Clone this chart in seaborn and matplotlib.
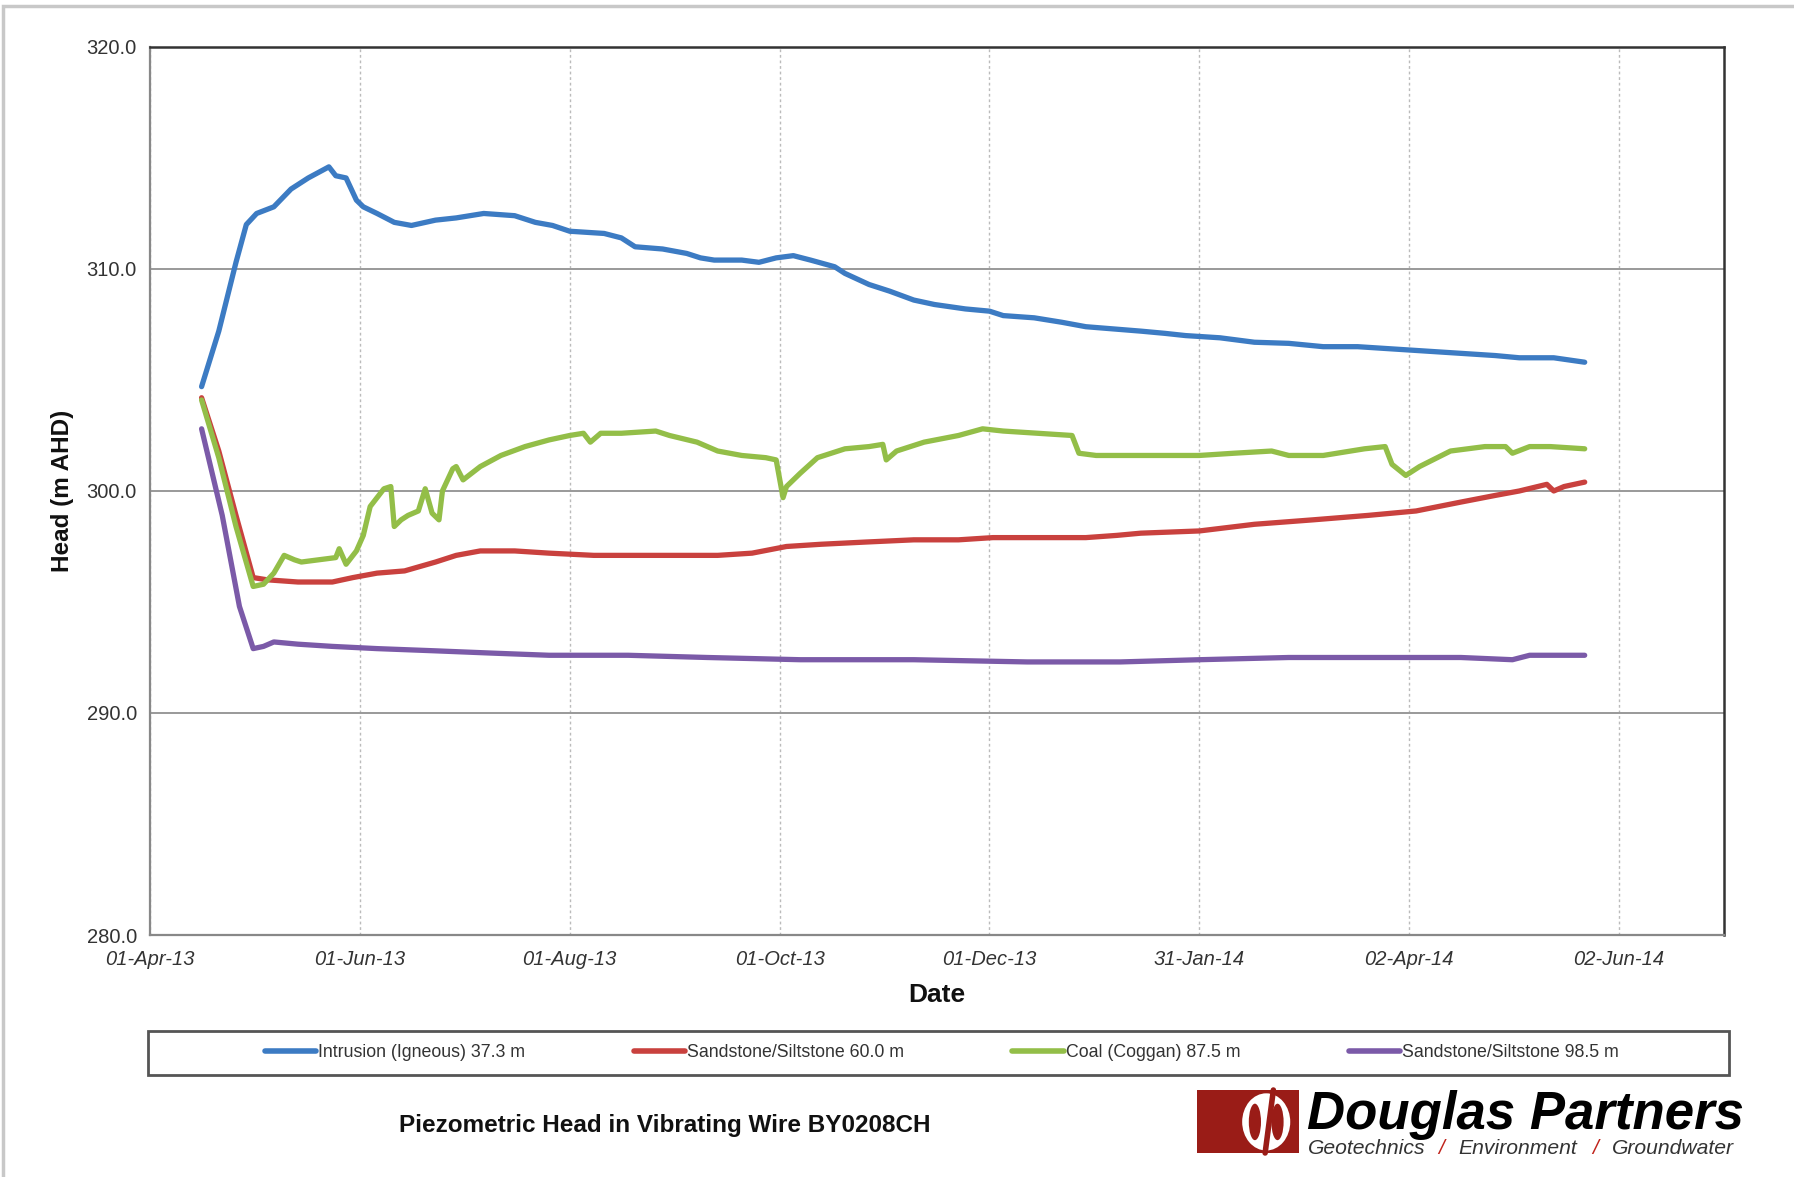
import numpy as np
import pandas as pd
import matplotlib
matplotlib.use("Agg")
import matplotlib.pyplot as plt
import matplotlib.dates as mdates
from matplotlib.patches import Rectangle, Ellipse
import seaborn as sns

# days after 01-Apr-13
blue_days = [15, 20, 25, 28, 31, 36, 41, 46, 52, 54, 57, 60, 62, 66, 71, 76, 83, 89, 97, 106,
             112, 117, 122, 132, 137, 141, 149, 156, 160, 164, 172, 177, 182, 187, 192, 199,
             202, 209, 215, 222, 228, 237, 244, 248, 257, 265, 272, 280, 288, 295, 301, 311,
             321, 331, 341, 351, 361, 371, 381, 391, 398, 408, 417]
blue_head = [304.7, 307.2, 310.3, 312.0, 312.5, 312.8, 313.6, 314.1, 314.6, 314.2, 314.1, 313.1,
             312.8, 312.5, 312.1, 311.96, 312.2, 312.3, 312.5, 312.4, 312.1, 311.96, 311.7, 311.6,
             311.4, 311.0, 310.9, 310.7, 310.5, 310.4, 310.4, 310.3, 310.5, 310.6, 310.4, 310.1,
             309.8, 309.3, 309.0, 308.6, 308.4, 308.2, 308.1, 307.9, 307.8, 307.6, 307.4, 307.3,
             307.2, 307.1, 307.0, 306.9, 306.7, 306.65, 306.5, 306.5, 306.4, 306.3, 306.2, 306.1,
             306.0, 306.0, 305.8]

red_days = [15, 20, 25, 30, 34, 43, 53, 59, 66, 74, 83, 89, 96, 106, 116, 129, 142, 155, 165,
            175, 185, 195, 208, 222, 235, 245, 255, 272, 281, 288, 305, 321, 338, 354, 368, 381,
            391, 398, 406, 408, 411, 417]
red_head = [304.2, 301.8, 298.9, 296.1, 296.0, 295.9, 295.9, 296.1, 296.3, 296.4, 296.8, 297.1,
            297.3, 297.3, 297.2, 297.1, 297.1, 297.1, 297.1, 297.2, 297.5, 297.6, 297.7, 297.8,
            297.8, 297.9, 297.9, 297.9, 298.0, 298.1, 298.2, 298.5, 298.7, 298.9, 299.1, 299.5,
            299.8, 300.0, 300.3, 300.0, 300.2, 300.4]

green_days = [15, 20, 25, 30, 33, 36, 39, 42, 44, 49, 54, 55, 57, 60, 62, 64, 68, 70, 71, 73,
              75, 78, 80, 82, 84, 85, 88, 89, 91, 96, 102, 109, 116, 122, 126, 128, 131, 137,
              147, 151, 159, 165, 172, 179, 182, 184, 185, 189, 194, 202, 209, 213, 214, 217,
              225, 235, 242, 248, 258, 268, 270, 275, 288, 305, 315, 326, 331, 341, 353, 359,
              361, 365, 369, 378, 388, 394, 396, 401, 407, 417]
green_head = [304.1, 301.5, 298.4, 295.7, 295.8, 296.3, 297.1, 296.9, 296.8, 296.9, 297.0, 297.4,
              296.7, 297.3, 298.0, 299.3, 300.1, 300.2, 298.4, 298.7, 298.9, 299.1, 300.1, 299.0,
              298.7, 300.0, 301.0, 301.1, 300.5, 301.1, 301.6, 302.0, 302.3, 302.5, 302.6, 302.2,
              302.6, 302.6, 302.7, 302.5, 302.2, 301.8, 301.6, 301.5, 301.4, 299.7, 300.2, 300.8,
              301.5, 301.9, 302.0, 302.1, 301.4, 301.8, 302.2, 302.5, 302.8, 302.7, 302.6, 302.5,
              301.7, 301.6, 301.6, 301.6, 301.7, 301.8, 301.6, 301.6, 301.9, 302.0, 301.2, 300.7,
              301.1, 301.8, 302.0, 302.0, 301.7, 302.0, 302.0, 301.9]

purple_days = [15, 21, 26, 30, 33, 36, 43, 53, 66, 83, 99, 116, 139, 162, 189, 222, 255, 282,
               305, 331, 354, 381, 396, 401, 417]
purple_head = [302.8, 298.9, 294.8, 292.9, 293.0, 293.2, 293.1, 293.0, 292.9, 292.8, 292.7,
               292.6, 292.6, 292.5, 292.4, 292.4, 292.3, 292.3, 292.4, 292.5, 292.5, 292.5,
               292.4, 292.6, 292.6]

series_names = ["Intrusion (Igneous) 37.3 m", "Sandstone/Siltstone 60.0 m",
                "Coal (Coggan) 87.5 m", "Sandstone/Siltstone 98.5 m"]
colors = ["#3c7bc3", "#c9413e", "#93be48", "#7b5aa8"]

start = pd.Timestamp("2013-04-01")
tick_labels = ["01-Apr-13", "01-Jun-13", "01-Aug-13", "01-Oct-13", "01-Dec-13",
               "31-Jan-14", "02-Apr-14", "02-Jun-14"]

frames = []
for name, d, h in zip(series_names,
                      [blue_days, red_days, green_days, purple_days],
                      [blue_head, red_head, green_head, purple_head]):
    frames.append(pd.DataFrame({"Date": start + pd.to_timedelta(d, unit="D"),
                                "Head": h, "Series": name}))
df = pd.concat(frames, ignore_index=True)

sns.set_style("white")
plt.rcParams["font.family"] = ["Liberation Sans", "DejaVu Sans"]

fig = plt.figure(figsize=(17.94, 11.77), dpi=100)
ax = fig.add_axes([0.0836, 0.2056, 0.8774, 0.7545])

sns.lineplot(data=df, x="Date", y="Head", hue="Series", palette=colors,
             hue_order=series_names, estimator=None, linewidth=3.8, ax=ax, legend=False)

# axes
ax.set_ylim(280, 320)
ax.set_yticks(np.arange(280, 321, 10))
ax.set_yticks(np.arange(280, 321, 2), minor=True)
ax.yaxis.set_major_formatter(matplotlib.ticker.FormatStrFormatter("%.1f"))

major = [start + pd.Timedelta(days=61 * k) for k in range(8)]
minor = [start + pd.Timedelta(days=61 * k + 30.5) for k in range(8)]
ax.set_xticks(mdates.date2num(major))
ax.set_xticks(mdates.date2num(minor), minor=True)
ax.set_xticklabels(tick_labels, style="italic")
ax.set_xlim(mdates.date2num(start), mdates.date2num(start + pd.Timedelta(days=457.5)))

ax.tick_params(axis="both", which="major", direction="out", length=6, width=1.2,
               color="#777777", labelsize=14.5, labelcolor="#333333")
ax.tick_params(axis="both", which="minor", direction="out", length=4, width=1.0,
               color="#999999")
ax.tick_params(axis="x", pad=5)

ax.grid(axis="y", which="major", color="#999999", linewidth=1.4, linestyle="-")
ax.grid(axis="x", which="major", color="#bbbbbb", linewidth=1.0, linestyle=(0, (2, 2)))
ax.set_axisbelow(True)

for side in ["top", "right"]:
    ax.spines[side].set_color("#333333")
    ax.spines[side].set_linewidth(1.8)
for side in ["left", "bottom"]:
    ax.spines[side].set_color("#888888")
    ax.spines[side].set_linewidth(1.6)

ax.set_xlabel("")
ax.set_ylabel("")
fig.text(0.522, 0.1546, "Date", fontsize=19, fontweight="bold", color="#111111",
         ha="center", va="center")
fig.text(0.035, 0.583, "Head (m AHD)", fontsize=17.5, fontweight="bold", color="#111111",
         rotation=90, ha="center", va="center")

# legend box below the chart
fig.patches.append(Rectangle((0.0825, 0.0867), 0.8813, 0.0374, transform=fig.transFigure,
                             facecolor="white", edgecolor="#555555", linewidth=2))
handles = [plt.Line2D([], [], color=c, linewidth=4) for c in colors]
fig.legend(handles, series_names, loc="center", bbox_to_anchor=(0.525, 0.1054), ncol=4,
           frameon=False, fontsize=12.8, handlelength=2.9, handletextpad=0.1,
           columnspacing=6.1, labelcolor="#333333")

fig.text(0.2225, 0.0435, "Piezometric Head in Vibrating Wire BY0208CH", fontsize=17.5,
         fontweight="bold", color="#111111", ha="left", va="center")

# logo
fig.patches.append(Rectangle((0.6672, 0.0204), 0.0569, 0.0535, transform=fig.transFigure,
                             facecolor="#9a1c17", edgecolor="none"))
fig.patches.append(Ellipse((0.7058, 0.0468), 0.0268, 0.0486, transform=fig.transFigure,
                           facecolor="white", edgecolor="none"))
fig.patches.append(Ellipse((0.6995, 0.0468), 0.0068, 0.031, transform=fig.transFigure,
                           facecolor="#9a1c17", edgecolor="none"))
fig.patches.append(Ellipse((0.7121, 0.0468), 0.0068, 0.031, transform=fig.transFigure,
                           facecolor="#9a1c17", edgecolor="none"))
fig.lines.append(plt.Line2D([0.7098, 0.7052], [0.0739, 0.0204], transform=fig.transFigure,
                            color="#9a1c17", linewidth=4))
fig.text(0.7285, 0.0408, "Douglas Partners", fontsize=38, fontweight="bold",
         style="italic", color="black", ha="left", va="baseline")
sub_y = 0.0245
fig.text(0.729, sub_y, "Geotechnics", fontsize=15.2, style="italic", color="#333333",
         ha="left", va="center")
fig.text(0.8035, sub_y, "/", fontsize=15.2, style="italic", color="#c0241c", ha="center",
         va="center")
fig.text(0.813, sub_y, "Environment", fontsize=15.2, style="italic", color="#333333",
         ha="left", va="center")
fig.text(0.8889, sub_y, "/", fontsize=15.2, style="italic", color="#c0241c", ha="center",
         va="center")
fig.text(0.8985, sub_y, "Groundwater", fontsize=15.2, style="italic", color="#333333",
         ha="left", va="center")

# outer frame of the sheet
fig.patches.append(Rectangle((0.0017, -0.01), 1.02, 1.005, transform=fig.transFigure,
                             facecolor="none", edgecolor="#c8c8c8", linewidth=2.5))

fig.savefig("out.png", dpi=100)
